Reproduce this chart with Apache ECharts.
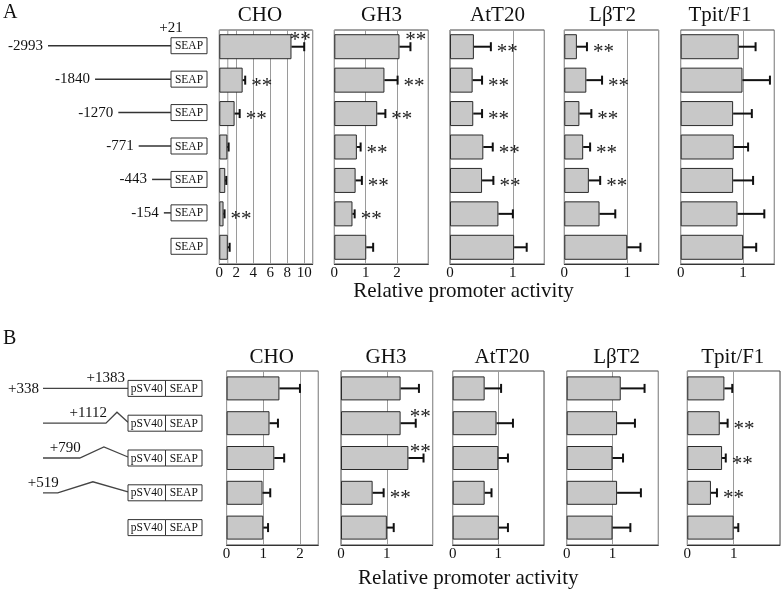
<!DOCTYPE html>
<html><head><meta charset="utf-8">
<script src="https://cdn.jsdelivr.net/npm/echarts/dist/echarts.min.js"></script>
<style>html,body{margin:0;padding:0;background:#fff}#c{width:782px;height:592px}</style>
</head><body><div id="c"></div>
<script>
// ---------- data ----------
const cellLines = ['CHO', 'GH3', 'AtT20', 'LβT2', 'Tpit/F1'];

const constructsA = ['-2993', '-1840', '-1270', '-771', '-443', '-154', 'SEAP'];
const promoterStartA = [-2993, -1840, -1270, -771, -443, -154, null];
const promoterEndA = 21;

const constructsB = ['+1383', '+1112', '+790', '+519', 'pSV40'];
const intronStartB = [338, 338, 338, 338, null];
const intronBreakB = [1383, 1112, 790, 519, null];
const intronEndB = 1383;

const A_CHO_mean = [8.5, 2.75, 1.8, 0.95, 0.7, 0.5, 1.0];
const A_CHO_err  = [1.5, 0.3, 0.6, 0.15, 0.12, 0.12, 0.22];
const A_CHO_sig  = [1, 1, 1, 0, 0, 1, 0];
const A_GH3_mean = [2.08, 1.6, 1.37, 0.72, 0.68, 0.58, 1.02];
const A_GH3_err  = [0.35, 0.42, 0.26, 0.12, 0.2, 0.07, 0.22];
const A_GH3_sig  = [1, 1, 1, 1, 1, 1, 0];
const A_AtT20_mean = [0.38, 0.36, 0.37, 0.53, 0.51, 0.77, 1.02];
const A_AtT20_err  = [0.27, 0.15, 0.14, 0.15, 0.18, 0.23, 0.2];
const A_AtT20_sig  = [1, 1, 1, 1, 1, 0, 0];
const A_LbT2_mean = [0.2, 0.35, 0.24, 0.3, 0.39, 0.56, 1.0];
const A_LbT2_err  = [0.16, 0.25, 0.19, 0.11, 0.18, 0.25, 0.21];
const A_LbT2_sig  = [1, 1, 1, 1, 1, 0, 0];
const A_Tpit_mean = [0.93, 0.99, 0.84, 0.85, 0.84, 0.91, 1.0];
const A_Tpit_err  = [0.27, 0.44, 0.3, 0.23, 0.32, 0.43, 0.21];
const A_Tpit_sig  = [0, 0, 0, 0, 0, 0, 0];

const B_CHO_mean = [1.44, 1.17, 1.3, 0.98, 1.0];
const B_CHO_err  = [0.56, 0.23, 0.27, 0.21, 0.13];
const B_CHO_sig  = [0, 0, 0, 0, 0];
const B_GH3_mean = [1.3, 1.3, 1.47, 0.69, 1.0];
const B_GH3_err  = [0.4, 0.33, 0.33, 0.24, 0.15];
const B_GH3_sig  = [0, 1, 1, 1, 0];
const B_AtT20_mean = [0.7, 0.96, 1.0, 0.7, 1.01];
const B_AtT20_err  = [0.36, 0.36, 0.21, 0.15, 0.2];
const B_AtT20_sig  = [0, 0, 0, 0, 0];
const B_LbT2_mean = [1.18, 1.1, 1.0, 1.1, 1.0];
const B_LbT2_err  = [0.52, 0.39, 0.23, 0.52, 0.39];
const B_LbT2_sig  = [0, 0, 0, 0, 0];
const B_Tpit_mean = [0.8, 0.7, 0.75, 0.51, 1.0];
const B_Tpit_err  = [0.17, 0.17, 0.08, 0.13, 0.1];
const B_Tpit_sig  = [0, 1, 1, 1, 0];

const axisMaxA = [11, 3, 1.5, 1.5, 1.5];
const axisIntervalA = [2, 1, 1, 1, 1];
const refLineA = [1, null, null, null, null];
const axisMaxB = [2.5, 2, 2, 2, 2];
const axisIntervalB = [1, 1, 1, 1, 1];
const axisTitle = 'Relative promoter activity';

// ---------- layout / style ----------
const FONT = '"Liberation Serif", "Times New Roman", serif';
const layA = { top: 30, height: 234, lefts: [219.3, 334.3, 450, 564.3, 680.7], rights: [312.7, 428.3, 544.3, 658.7, 774.3],
  titleX: [260, 381.5, 497.5, 612.5, 720], titleY: 15, nameX: 463.5, nameY: 291, barW: 25 };
const layB = { top: 371, height: 174, lefts: [226.6, 341, 452.7, 566.7, 687.3], rights: [318.3, 432.7, 544, 658.3, 780],
  titleX: [271.7, 386, 502, 616.7, 732.8], titleY: 357, nameX: 468.3, nameY: 578, barW: 24 };

const panelsA = [
  [A_CHO_mean, A_CHO_err, A_CHO_sig], [A_GH3_mean, A_GH3_err, A_GH3_sig], [A_AtT20_mean, A_AtT20_err, A_AtT20_sig],
  [A_LbT2_mean, A_LbT2_err, A_LbT2_sig], [A_Tpit_mean, A_Tpit_err, A_Tpit_sig]];
const panelsB = [
  [B_CHO_mean, B_CHO_err, B_CHO_sig], [B_GH3_mean, B_GH3_err, B_GH3_sig], [B_AtT20_mean, B_AtT20_err, B_AtT20_sig],
  [B_LbT2_mean, B_LbT2_err, B_LbT2_sig], [B_Tpit_mean, B_Tpit_err, B_Tpit_sig]];

const grid = [], xAxis = [], yAxis = [], series = [], graphic = [];

function errRender(params, api) {
  const v = api.value(0), idx = api.value(1), e = api.value(2), sig = api.value(3);
  const p0 = api.coord([v, idx]);
  const p1 = api.coord([v + e, idx]);
  const cs = params.coordSys;
  const y = p0[1];
  const ch = [
    { type: 'line', shape: { x1: p0[0], y1: y, x2: p1[0], y2: y }, style: { stroke: '#111', lineWidth: 2 } },
    { type: 'line', shape: { x1: p1[0], y1: y - 4.5, x2: p1[0], y2: y + 4.5 }, style: { stroke: '#111', lineWidth: 2 } }
  ];
  if (sig) {
    let tx = p1[0] + 6, ty = y + 6, al = 'left';
    if (tx + 21 > cs.x + cs.width - 1) { tx = cs.x + cs.width - 2; ty = y - 6; al = 'right'; }
    ch.push({ type: 'text', style: { text: '**', x: tx, y: ty, align: al, verticalAlign: 'middle',
      fontSize: 21, fontFamily: FONT, fill: '#222' } });
  }
  return { type: 'group', children: ch };
}

function refRender(params, api) {
  const cs = params.coordSys;
  const p = api.coord([api.value(0), 0]);
  return { type: 'line', shape: { x1: p[0], y1: cs.y, x2: p[0], y2: cs.y + cs.height }, style: { stroke: '#9a9a9a', lineWidth: 1 } };
}

function addPanels(panels, lay, cats, maxes, intervals, refs) {
  panels.forEach((p, k) => {
    const gi = grid.length;
    grid.push({ left: lay.lefts[k], width: lay.rights[k] - lay.lefts[k], top: lay.top, height: lay.height,
      show: true, borderColor: '#444', borderWidth: 1, containLabel: false });
    xAxis.push({ gridIndex: gi, type: 'value', min: 0, max: maxes[k], interval: intervals[k],
      axisLine: { show: true, lineStyle: { color: '#333', width: 1 } }, axisTick: { show: false },
      axisLabel: { fontFamily: FONT, fontSize: 15, color: '#111', margin: 2, showMaxLabel: false },
      splitLine: { show: true, lineStyle: { color: '#9a9a9a', width: 1 } } });
    yAxis.push({ gridIndex: gi, type: 'category', inverse: true, data: cats,
      axisLine: { show: false }, axisTick: { show: false }, axisLabel: { show: false }, splitLine: { show: false } });
    if (refs && refs[k] != null) {
      series.push({ type: 'custom', xAxisIndex: gi, yAxisIndex: gi, z: 1, silent: true,
        renderItem: refRender, data: [[refs[k], 0]], encode: { x: 0, y: 1 } });
    }
    series.push({ type: 'bar', xAxisIndex: gi, yAxisIndex: gi, z: 2, barWidth: lay.barW, silent: true,
      data: p[0], itemStyle: { color: '#c8c8c8', borderColor: '#2a2a2a', borderWidth: 1 } });
    series.push({ type: 'custom', xAxisIndex: gi, yAxisIndex: gi, z: 3, silent: true, clip: false,
      renderItem: errRender, encode: { x: 0, y: 1 },
      data: p[0].map((v, i) => [v, i, p[1][i], p[2][i]]) });
    graphic.push({ type: 'text', x: lay.titleX[k], y: lay.titleY,
      style: { text: cellLines[k], fontSize: 21, fontFamily: FONT, fill: '#111', align: 'center', verticalAlign: 'middle' } });
  });
  graphic.push({ type: 'text', x: lay.nameX, y: lay.nameY,
    style: { text: axisTitle, fontSize: 21, fontFamily: FONT, fill: '#111', align: 'center', verticalAlign: 'middle' } });
}

addPanels(panelsA, layA, constructsA, axisMaxA, axisIntervalA, refLineA);
addPanels(panelsB, layB, constructsB, axisMaxB, axisIntervalB, null);

// ---------- construct diagrams ----------
function hiddenAxes(gi, cats, min, max) {
  xAxis.push({ gridIndex: gi, type: 'value', min: min, max: max, show: false, splitLine: { show: false } });
  yAxis.push({ gridIndex: gi, type: 'category', inverse: true, data: cats, show: false });
}
const giDA = grid.length;
grid.push({ left: 48, width: 123, top: layA.top, height: layA.height });
hiddenAxes(giDA, constructsA, promoterStartA[0], promoterEndA);
series.push({ type: 'custom', xAxisIndex: giDA, yAxisIndex: giDA, clip: false, silent: true,
  data: constructsA.map((c, i) => [promoterEndA, i]), encode: { x: 0, y: 1 },
  renderItem: function (params, api) {
    const i = params.dataIndex;
    const pe = api.coord([promoterEndA, i]);
    const y = pe[1] - 1;
    const ch = [];
    if (promoterStartA[i] != null) {
      const ps = api.coord([promoterStartA[i], i]);
      ch.push({ type: 'line', shape: { x1: ps[0], y1: y, x2: pe[0], y2: y }, style: { stroke: '#333', lineWidth: 1.5 } });
      ch.push({ type: 'text', style: { text: constructsA[i], x: ps[0] - 5, y: y, align: 'right', verticalAlign: 'middle',
        fontSize: 15, fontFamily: FONT, fill: '#111' } });
    }
    ch.push({ type: 'rect', shape: { x: pe[0], y: y - 8, width: 36, height: 16 }, style: { fill: '#fff', stroke: '#333', lineWidth: 1 } });
    ch.push({ type: 'text', style: { text: 'SEAP', x: pe[0] + 18, y: y + 0.5, align: 'center', verticalAlign: 'middle',
      fontSize: 11.5, fontFamily: FONT, fill: '#111' } });
    if (i === 0) {
      ch.push({ type: 'text', style: { text: '+' + promoterEndA, x: pe[0], y: y - 18, align: 'center', verticalAlign: 'middle',
        fontSize: 15, fontFamily: FONT, fill: '#111' } });
    }
    return { type: 'group', children: ch };
  } });

const giDB = grid.length;
grid.push({ left: 43, width: 85, top: layB.top, height: layB.height });
hiddenAxes(giDB, constructsB, intronStartB[0], intronEndB);
series.push({ type: 'custom', xAxisIndex: giDB, yAxisIndex: giDB, clip: false, silent: true,
  data: constructsB.map((c, i) => [intronEndB, i]), encode: { x: 0, y: 1 },
  renderItem: function (params, api) {
    const i = params.dataIndex;
    const pe = api.coord([intronEndB, i]);
    const y = pe[1];
    const ch = [];
    if (intronStartB[i] != null) {
      const ps = api.coord([intronStartB[i], i]);
      const pb = api.coord([intronBreakB[i], i]);
      let pts;
      if (intronBreakB[i] < intronEndB) {
        pts = [[ps[0], y], [pb[0], y], [(pb[0] + pe[0]) / 2, y - 11], [pe[0], y - 1]];
      } else {
        pts = [[ps[0], y], [pe[0], y]];
      }
      ch.push({ type: 'polyline', shape: { points: pts }, style: { stroke: '#444', lineWidth: 1.3, fill: null } });
      ch.push({ type: 'text', style: { text: '+' + intronBreakB[i], x: Math.min(pb[0] + 1, pe[0] - 3), y: y - 10,
        align: 'right', verticalAlign: 'middle', fontSize: 15, fontFamily: FONT, fill: '#111' } });
      if (i === 0) {
        ch.push({ type: 'text', style: { text: '+' + intronStartB[i], x: ps[0] - 4, y: y + 1, align: 'right', verticalAlign: 'middle',
          fontSize: 15, fontFamily: FONT, fill: '#111' } });
      }
    }
    ch.push({ type: 'rect', shape: { x: pe[0], y: y - 8, width: 37.5, height: 16 }, style: { fill: '#fff', stroke: '#333', lineWidth: 1 } });
    ch.push({ type: 'rect', shape: { x: pe[0] + 37.5, y: y - 8, width: 36.5, height: 16 }, style: { fill: '#fff', stroke: '#333', lineWidth: 1 } });
    ch.push({ type: 'text', style: { text: 'pSV40', x: pe[0] + 18.75, y: y + 0.5, align: 'center', verticalAlign: 'middle',
      fontSize: 11.5, fontFamily: FONT, fill: '#111' } });
    ch.push({ type: 'text', style: { text: 'SEAP', x: pe[0] + 37.5 + 18.25, y: y + 0.5, align: 'center', verticalAlign: 'middle',
      fontSize: 11.5, fontFamily: FONT, fill: '#111' } });
    return { type: 'group', children: ch };
  } });

graphic.push({ type: 'text', x: 3, y: 13, style: { text: 'A', fontSize: 20, fontFamily: FONT, fill: '#111', verticalAlign: 'middle' } });
graphic.push({ type: 'text', x: 3, y: 339, style: { text: 'B', fontSize: 20, fontFamily: FONT, fill: '#111', verticalAlign: 'middle' } });

const chart = echarts.init(document.getElementById('c'), null, { renderer: 'canvas' });
chart.setOption({
  animation: false,
  backgroundColor: '#fff',
  textStyle: { fontFamily: FONT },
  grid: grid, xAxis: xAxis, yAxis: yAxis, series: series, graphic: graphic
});
</script></body></html>
